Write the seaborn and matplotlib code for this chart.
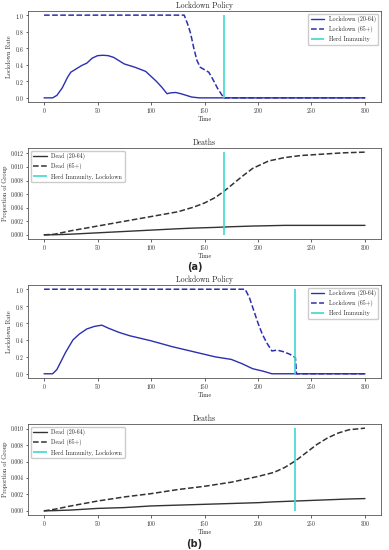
import numpy as np
import pandas as pd
import matplotlib.pyplot as plt
import seaborn as sns

### values ###
# (a) lockdown policy
t_lock_a_young = [0, 8, 12, 17, 22, 25, 30, 35, 40, 45, 50, 55, 60, 65, 70, 75, 85, 95, 100, 105, 110, 115, 118, 123, 128, 133, 138, 145, 300]
lock_a_young = [0, 0, 0.03, 0.12, 0.25, 0.31, 0.35, 0.39, 0.42, 0.48, 0.51, 0.515, 0.51, 0.49, 0.45, 0.41, 0.37, 0.32, 0.26, 0.2, 0.13, 0.05, 0.06, 0.065, 0.05, 0.03, 0.01, 0, 0]
t_lock_a_old = [0, 131, 134, 137, 140, 143, 146, 150, 154, 158, 162, 166, 168, 300]
lock_a_old = [1, 1, 0.9, 0.78, 0.6, 0.45, 0.37, 0.34, 0.31, 0.22, 0.12, 0.04, 0, 0]
herd_a = 168

# (a) deaths
t_dead_a = [0, 10, 25, 50, 75, 100, 125, 140, 150, 160, 168, 175, 185, 195, 210, 225, 240, 260, 280, 300]
dead_a_old = [0, 0.0001, 0.0006, 0.0013, 0.002, 0.0027, 0.0034, 0.0041, 0.0047, 0.0055, 0.0064, 0.0073, 0.0086, 0.0098, 0.0109, 0.0114, 0.0117, 0.0119, 0.0121, 0.0122]
dead_a_young = [0, 0.00002, 0.0001, 0.0003, 0.0005, 0.0007, 0.0009, 0.001, 0.00105, 0.0011, 0.00115, 0.0012, 0.00125, 0.0013, 0.00135, 0.0014, 0.0014, 0.0014, 0.0014, 0.0014]

# (b) lockdown policy
t_lock_b_young = [0, 8, 12, 16, 20, 27, 33, 40, 47, 54, 60, 70, 80, 90, 100, 120, 140, 160, 175, 185, 195, 205, 213, 300]
lock_b_young = [0, 0, 0.05, 0.15, 0.25, 0.4, 0.47, 0.53, 0.56, 0.575, 0.54, 0.49, 0.45, 0.42, 0.39, 0.32, 0.26, 0.2, 0.17, 0.12, 0.06, 0.03, 0, 0]
t_lock_b_old = [0, 188, 192, 196, 200, 204, 208, 213, 218, 224, 230, 235, 236, 300]
lock_b_old = [1, 1, 0.9, 0.75, 0.6, 0.47, 0.37, 0.27, 0.28, 0.26, 0.23, 0.19, 0, 0]
herd_b = 235

# (b) deaths
t_dead_b = [0, 10, 25, 50, 75, 100, 125, 150, 175, 200, 215, 225, 235, 245, 255, 265, 275, 285, 300]
dead_b_old = [0, 0.0002, 0.0006, 0.0012, 0.0017, 0.0021, 0.0026, 0.003, 0.0035, 0.0042, 0.0047, 0.0053, 0.0061, 0.0071, 0.0081, 0.0089, 0.0095, 0.0099, 0.0101]
dead_b_young = [0, 0.00003, 0.0001, 0.0003, 0.0004, 0.0006, 0.0007, 0.0008, 0.0009, 0.001, 0.0011, 0.00115, 0.0012, 0.00125, 0.0013, 0.00135, 0.0014, 0.00145, 0.0015]

sns.set_style('ticks')
plt.rcParams['font.family'] = ['cmr10', 'DejaVu Serif']
plt.rcParams['axes.formatter.use_mathtext'] = True
plt.rcParams['font.size'] = 4.5

lock_color = '#2c2fb0'
herd_color = '#3fd8d0'
dead_color = '#333333'


def lockdown_panel(ax, t_y, y_y, t_o, y_o, herd):
    sns.lineplot(x=t_y, y=y_y, ax=ax, color=lock_color, lw=1, label='Lockdown (20-64)')
    sns.lineplot(x=t_o, y=y_o, ax=ax, color=lock_color, lw=1.1, ls='--', label='Lockdown (65+)')
    ax.vlines(herd, 0, 1, color=herd_color, lw=1.2, label='Herd Immunity')
    ax.set_title('Lockdown Policy', fontsize=5.5, pad=2.5)
    ax.set_ylabel('Lockdown Rate', fontsize=4.5, labelpad=2)
    ax.set_yticks([0, 0.2, 0.4, 0.6, 0.8, 1.0])
    ax.legend(loc='upper right', fontsize=4.3, handlelength=2.2, framealpha=1)


def deaths_panel(ax, t, young, old, herd):
    sns.lineplot(x=t, y=young, ax=ax, color=dead_color, lw=1, label='Dead (20-64)')
    sns.lineplot(x=t, y=old, ax=ax, color=dead_color, lw=1.1, ls='--', label='Dead (65+)')
    ax.vlines(herd, 0, max(old), color=herd_color, lw=1.2, label='Herd Immunity, Lockdown')
    ax.set_title('Deaths', fontsize=5.5, pad=2.5)
    ax.set_ylabel('Proportion of Group', fontsize=4.5, labelpad=2)
    ax.yaxis.set_major_formatter(plt.FormatStrFormatter('%.3f'))
    ax.legend(loc='upper left', fontsize=4.3, handlelength=2.2, framealpha=1)


fig = plt.figure(figsize=(3.89, 5.5), dpi=100)
W, H = 389, 550
left, right = 28, 381
boxes = [(11, 102), (148, 239), (285, 378), (424, 515)]
axes = []
for top, bottom in boxes:
    ax = fig.add_axes([left / W, 1 - bottom / H, (right - left) / W, (bottom - top) / H])
    axes.append(ax)

lockdown_panel(axes[0], t_lock_a_young, lock_a_young, t_lock_a_old, lock_a_old, herd_a)
deaths_panel(axes[1], t_dead_a, dead_a_young, dead_a_old, herd_a)
lockdown_panel(axes[2], t_lock_b_young, lock_b_young, t_lock_b_old, lock_b_old, herd_b)
deaths_panel(axes[3], t_dead_b, dead_b_young, dead_b_old, herd_b)

for ax in axes:
    ax.set_xlim(-15, 315)
    ax.set_xticks([0, 50, 100, 150, 200, 250, 300])
    ax.set_xlabel('Time', fontsize=4.5, labelpad=0.8)
    ax.tick_params(labelsize=4, length=1.8, width=0.5, pad=1.2)
    for s in ax.spines.values():
        s.set_linewidth(0.6)
        s.set_color('#555555')

fig.text(0.5, 1 - 267 / H, '(a)', ha='center', va='center', fontsize=7, fontweight='bold', family='DejaVu Sans')
fig.text(0.5, 1 - 544 / H, '(b)', ha='center', va='center', fontsize=7, fontweight='bold', family='DejaVu Sans')

fig.savefig('out.png', dpi=100)
